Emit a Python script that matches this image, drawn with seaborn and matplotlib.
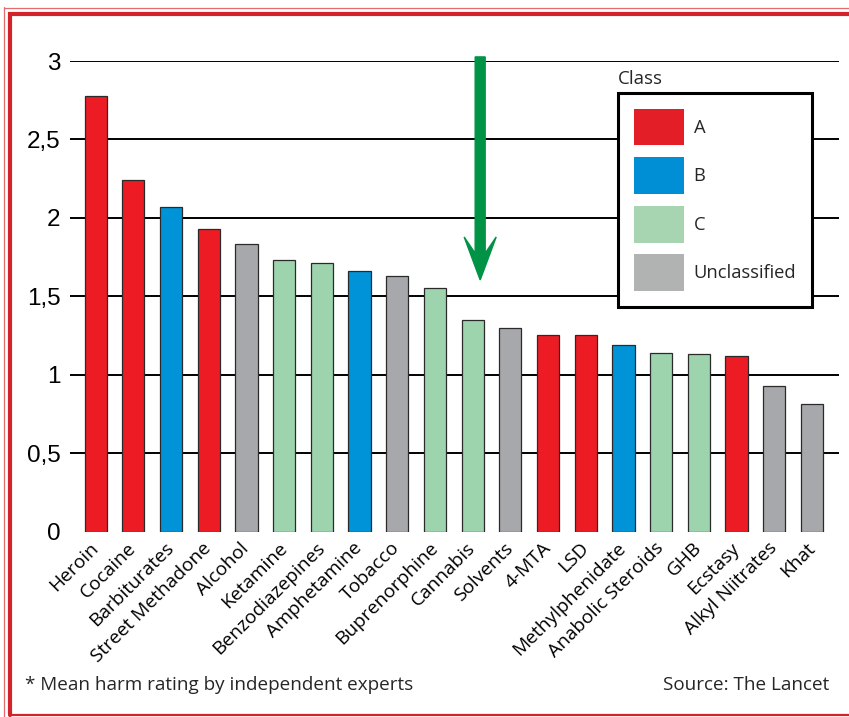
import matplotlib
matplotlib.use("Agg")
import matplotlib.pyplot as plt
import matplotlib.patches as mpatches
from matplotlib.lines import Line2D
import seaborn as sns
import pandas as pd

drugs = ["Heroin", "Cocaine", "Barbiturates", "Street Methadone", "Alcohol",
         "Ketamine", "Benzodiazepines", "Amphetamine", "Tobacco", "Buprenorphine",
         "Cannabis", "Solvents", "4-MTA", "LSD", "Methylphenidate",
         "Anabolic Steroids", "GHB", "Ecstasy", "Alkyl Niitrates", "Khat"]
harm = [2.78, 2.24, 2.07, 1.93, 1.83, 1.73, 1.71, 1.66, 1.63, 1.55,
        1.35, 1.30, 1.25, 1.25, 1.19, 1.14, 1.13, 1.12, 0.93, 0.81]
drug_class = ["A", "A", "B", "A", "Unclassified", "C", "C", "B", "Unclassified", "C",
              "C", "Unclassified", "A", "A", "B", "C", "C", "A", "Unclassified", "Unclassified"]
class_order = ["A", "B", "C", "Unclassified"]
bar_colors = {"A": "#ED1C24", "B": "#0093D7", "C": "#9DD4AE", "Unclassified": "#A7A8AB"}
legend_colors = {"A": "#E31E26", "B": "#008FD5", "C": "#A8D5B1", "Unclassified": "#B1B2B2"}
yticks = [0, 0.5, 1, 1.5, 2, 2.5, 3]
ytick_labels = ["0", "0,5", "1", "1,5", "2", "2,5", "3"]

df = pd.DataFrame({"drug": drugs, "harm": harm, "cls": drug_class})

sns.set_theme(style="white")
plt.rcParams["font.family"] = ["Open Sans", "DejaVu Sans"]

W, H = 849, 717
fig = plt.figure(figsize=(W / 100, H / 100), dpi=100)
ax = fig.add_axes([70 / W, 1 - 531.5 / H, (838.7 - 70) / W, (531.5 - 61) / H])

sns.barplot(data=df, x="drug", y="harm", hue="cls", hue_order=class_order,
            palette=bar_colors, dodge=False, width=0.59, order=drugs,
            saturation=1, edgecolor="#2a2a2a", linewidth=0.9, legend=False, ax=ax)

ax.set_xlim(-0.68, 19.71)
ax.set_ylim(0, 3)
ax.set_yticks(yticks)
ax.set_yticklabels(ytick_labels, fontfamily="Liberation Sans", fontsize=17.5)
ax.set_axisbelow(True)
ax.yaxis.grid(True, color="black", linewidth=1.4)
for gl in ax.yaxis.get_gridlines()[:1]:
    gl.set_visible(False)
ax.xaxis.grid(False)
for s in ax.spines.values():
    s.set_visible(False)
ax.tick_params(axis="y", length=0, pad=7)
ax.tick_params(axis="x", length=0, pad=10)
ax.set_xlabel("")
ax.set_ylabel("")
plt.setp(ax.get_xticklabels(), rotation=45, ha="right", va="center",
         rotation_mode="anchor", fontsize=13.8, color="black")
for t in ax.get_yticklabels():
    t.set_color("black")

# green arrow pointing to Cannabis
arrow = mpatches.FancyArrow(10.2, 3.026, 0, -1.422, width=0.265, head_width=0.85,
                            head_length=0.274, length_includes_head=True,
                            overhang=0.38, color="#009245", clip_on=False, zorder=5)
ax.add_patch(arrow)

# legend
handles = [mpatches.Patch(facecolor=legend_colors[c], edgecolor="none", label=c)
           for c in class_order]
leg = fig.legend(handles=handles, loc="upper left",
                 bbox_to_anchor=(618 / W, 1 - 93 / H), bbox_transform=fig.transFigure,
                 borderaxespad=0, frameon=True, fancybox=False, fontsize=13.2,
                 handlelength=2.73, handleheight=2.72, handletextpad=0.55,
                 labelspacing=0.64, borderpad=0.85)
leg.get_frame().set_edgecolor("black")
leg.get_frame().set_linewidth(2.2)
leg.get_frame().set_facecolor("white")
leg.get_frame().set_alpha(1)
fig.text(618 / W, 1 - 84 / H, "Class", fontsize=13.5, ha="left", va="baseline")

# footer texts
fig.text(25 / W, 1 - 690 / H, "* Mean harm rating by independent experts",
         fontsize=13.6, ha="left", va="baseline")
fig.text(829 / W, 1 - 690 / H, "Source: The Lancet",
         fontsize=13.6, ha="right", va="baseline")

# red frame
thin = "#E46A6E"
thick = "#D2232A"
fig.add_artist(Line2D([4 / W, 4 / W], [1 - 7 / H, 0], transform=fig.transFigure,
                      color=thin, lw=0.9))
fig.add_artist(Line2D([4 / W, 1.01], [1 - 7.5 / H, 1 - 7.5 / H], transform=fig.transFigure,
                      color=thin, lw=0.9))
fig.add_artist(Line2D([9.5 / W, 9.5 / W, 1.01], [1 - 714.5 / H, 1 - 13.5 / H, 1 - 13.5 / H],
                      transform=fig.transFigure, color=thick, lw=3.0,
                      solid_joinstyle="miter"))
fig.add_artist(Line2D([9.5 / W, 1.01], [1 - 714.5 / H, 1 - 714.5 / H],
                      transform=fig.transFigure, color=thick, lw=1.6))

fig.savefig("out.png", dpi=100)
